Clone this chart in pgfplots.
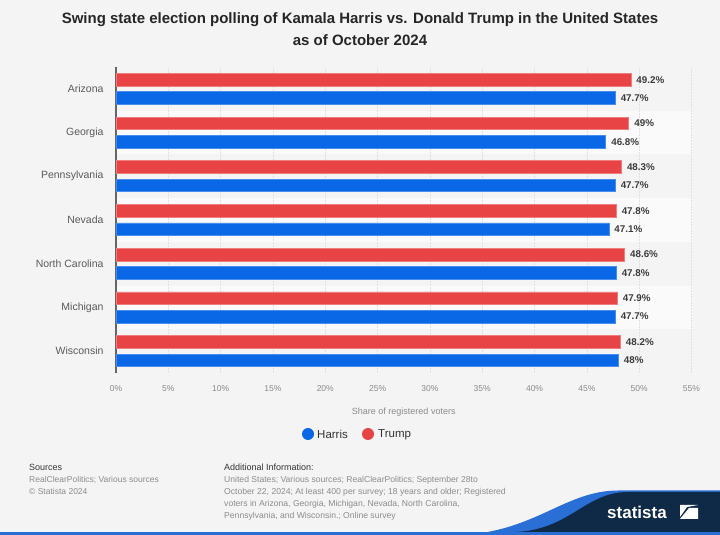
\documentclass[border=0pt]{standalone}
\usepackage{pgfplots}
\pgfplotsset{compat=1.18}
\usepackage{fontspec}
\setmainfont{Liberation Sans}
\definecolor{bg}{HTML}{F4F4F4}
\definecolor{band}{HTML}{FAFAFA}
\definecolor{harris}{HTML}{0A67E5}
\definecolor{trump}{HTML}{E84446}
\definecolor{navy}{HTML}{0E2A47}
\definecolor{wave}{HTML}{2A6FD6}
\definecolor{labgray}{HTML}{5A5A5A}
\definecolor{tickgray}{HTML}{8A8A8A}
\definecolor{valgray}{HTML}{3C3C3C}
\definecolor{footgray}{HTML}{8C8C8C}
\begin{document}
\begin{tikzpicture}[x=1pt,y=1pt]
\useasboundingbox (0pt,0pt) rectangle (720pt,535pt);
% background
\fill[bg] (0pt,0pt) rectangle (720pt,535pt);
% alternating row bands (Georgia, Nevada, Michigan rows)
\fill[band] (116pt,424.29pt) rectangle (691.5pt,380.57pt);
\fill[band] (116pt,336.86pt) rectangle (691.5pt,293.14pt);
\fill[band] (116pt,249.43pt) rectangle (691.5pt,205.71pt);
% title
\node[font=\bfseries\fontsize{15}{22}\selectfont, text=black!85, align=center] at (360pt,506pt)
  {Swing state election polling of Kamala Harris vs. Donald Trump in the United States\\as of October 2024};
\begin{axis}[
  at={(116pt,162pt)}, anchor=south west,
  scale only axis, width=575.5pt, height=306pt,
  /pgf/number format/assume math mode=true,
  xbar, bar width=12.6pt,
  xmin=0, xmax=55, ymin=-0.5, ymax=6.5,
  ytick={0,1,2,3,4,5,6},
  yticklabels={Wisconsin,Michigan,North Carolina,Nevada,Pennsylvania,Georgia,Arizona},
  xtick={0,5,...,55},
  xticklabel={\pgfmathprintnumber{\tick}\%},
  axis y line*=left, axis x line*=bottom,
  x axis line style={draw=none},
  y axis line style={draw=black!60, line width=1.2pt},
  major tick length=0pt,
  xmajorgrids, major grid style={draw=black!12, dash pattern=on 1.5pt off 1.5pt},
  yticklabel style={font=\fontsize{10.5}{12}\selectfont, text=labgray, xshift=-9pt},
  xticklabel style={font=\fontsize{8.5}{10}\selectfont, text=tickgray, yshift=-9pt},
  xlabel={Share of registered voters},
  xlabel style={font=\fontsize{9}{11}\selectfont, text=tickgray, yshift=-10pt},
  nodes near coords={\pgfmathprintnumber{\pgfplotspointmeta}\%},
  every node near coord/.append style={font=\bfseries\fontsize{9.8}{11}\selectfont, text=valgray, anchor=west, xshift=2pt},
  clip=false,
]
\addplot[fill=harris, draw=harris!75!white, line width=0.6pt, bar shift=-9.2pt] coordinates {
  (47.7,6) (46.8,5) (47.7,4) (47.1,3) (47.8,2) (47.7,1) (48,0)};
\addplot[fill=trump, draw=trump!70!white, line width=0.6pt, bar shift=9.2pt] coordinates {
  (49.2,6) (49,5) (48.3,4) (47.8,3) (48.6,2) (47.9,1) (48.2,0)};
\end{axis}
% legend
\fill[harris] (308pt,101pt) circle (6pt);
\node[anchor=west, font=\fontsize{11.5}{13}\selectfont, text=black!80, inner sep=0] at (317pt,100.5pt) {Harris};
\fill[trump] (368pt,101pt) circle (6pt);
\node[anchor=west, font=\fontsize{11.5}{13}\selectfont, text=black!80, inner sep=0] at (378pt,100.5pt) {Trump};
% footer
\node[anchor=west, font=\fontsize{9}{11}\selectfont, text=black!80, inner sep=0] at (29pt,68pt) {Sources};
\node[anchor=north west, align=left, font=\fontsize{8.5}{12}\selectfont, text=footgray, inner sep=0] at (29pt,59pt)
  {RealClearPolitics; Various sources\\\textcopyright{} Statista 2024};
\node[anchor=west, font=\fontsize{9}{11}\selectfont, text=black!80, inner sep=0] at (224pt,68pt) {Additional Information:};
\node[anchor=north west, align=left, font=\fontsize{8.6}{12}\selectfont, text=footgray, inner sep=0] at (224pt,59pt)
  {United States; Various sources; RealClearPolitics; September 28to\\
   October 22, 2024; At least 400 per survey; 18 years and older; Registered\\
   voters in Arizona, Georgia, Michigan, Nevada, North Carolina,\\
   Pennsylvania, and Wisconsin.; Online survey};
% statista logo band
\fill[wave] (460pt,0pt) .. controls (535pt,3pt) and (565pt,44.5pt) .. (618pt,44.5pt) -- (720pt,44.5pt) -- (720pt,0pt) -- cycle;
\fill[navy] (515pt,3pt) .. controls (570pt,5pt) and (585pt,43pt) .. (628pt,43pt) -- (720pt,43pt) -- (720pt,3pt) -- cycle;
\fill[wave] (0pt,0pt) rectangle (720pt,3pt);
\node[anchor=west, font=\bfseries\fontsize{17}{19}\selectfont, text=white, inner sep=0] at (607pt,23pt) {statista};
\fill[white] (680pt,16pt) -- (698pt,16pt) -- (698pt,27pt) -- (689pt,27pt) -- cycle;
\fill[white] (680pt,18pt) -- (680pt,30pt) -- (698pt,30pt) -- (687pt,28pt) -- cycle;
\end{tikzpicture}
\end{document}
